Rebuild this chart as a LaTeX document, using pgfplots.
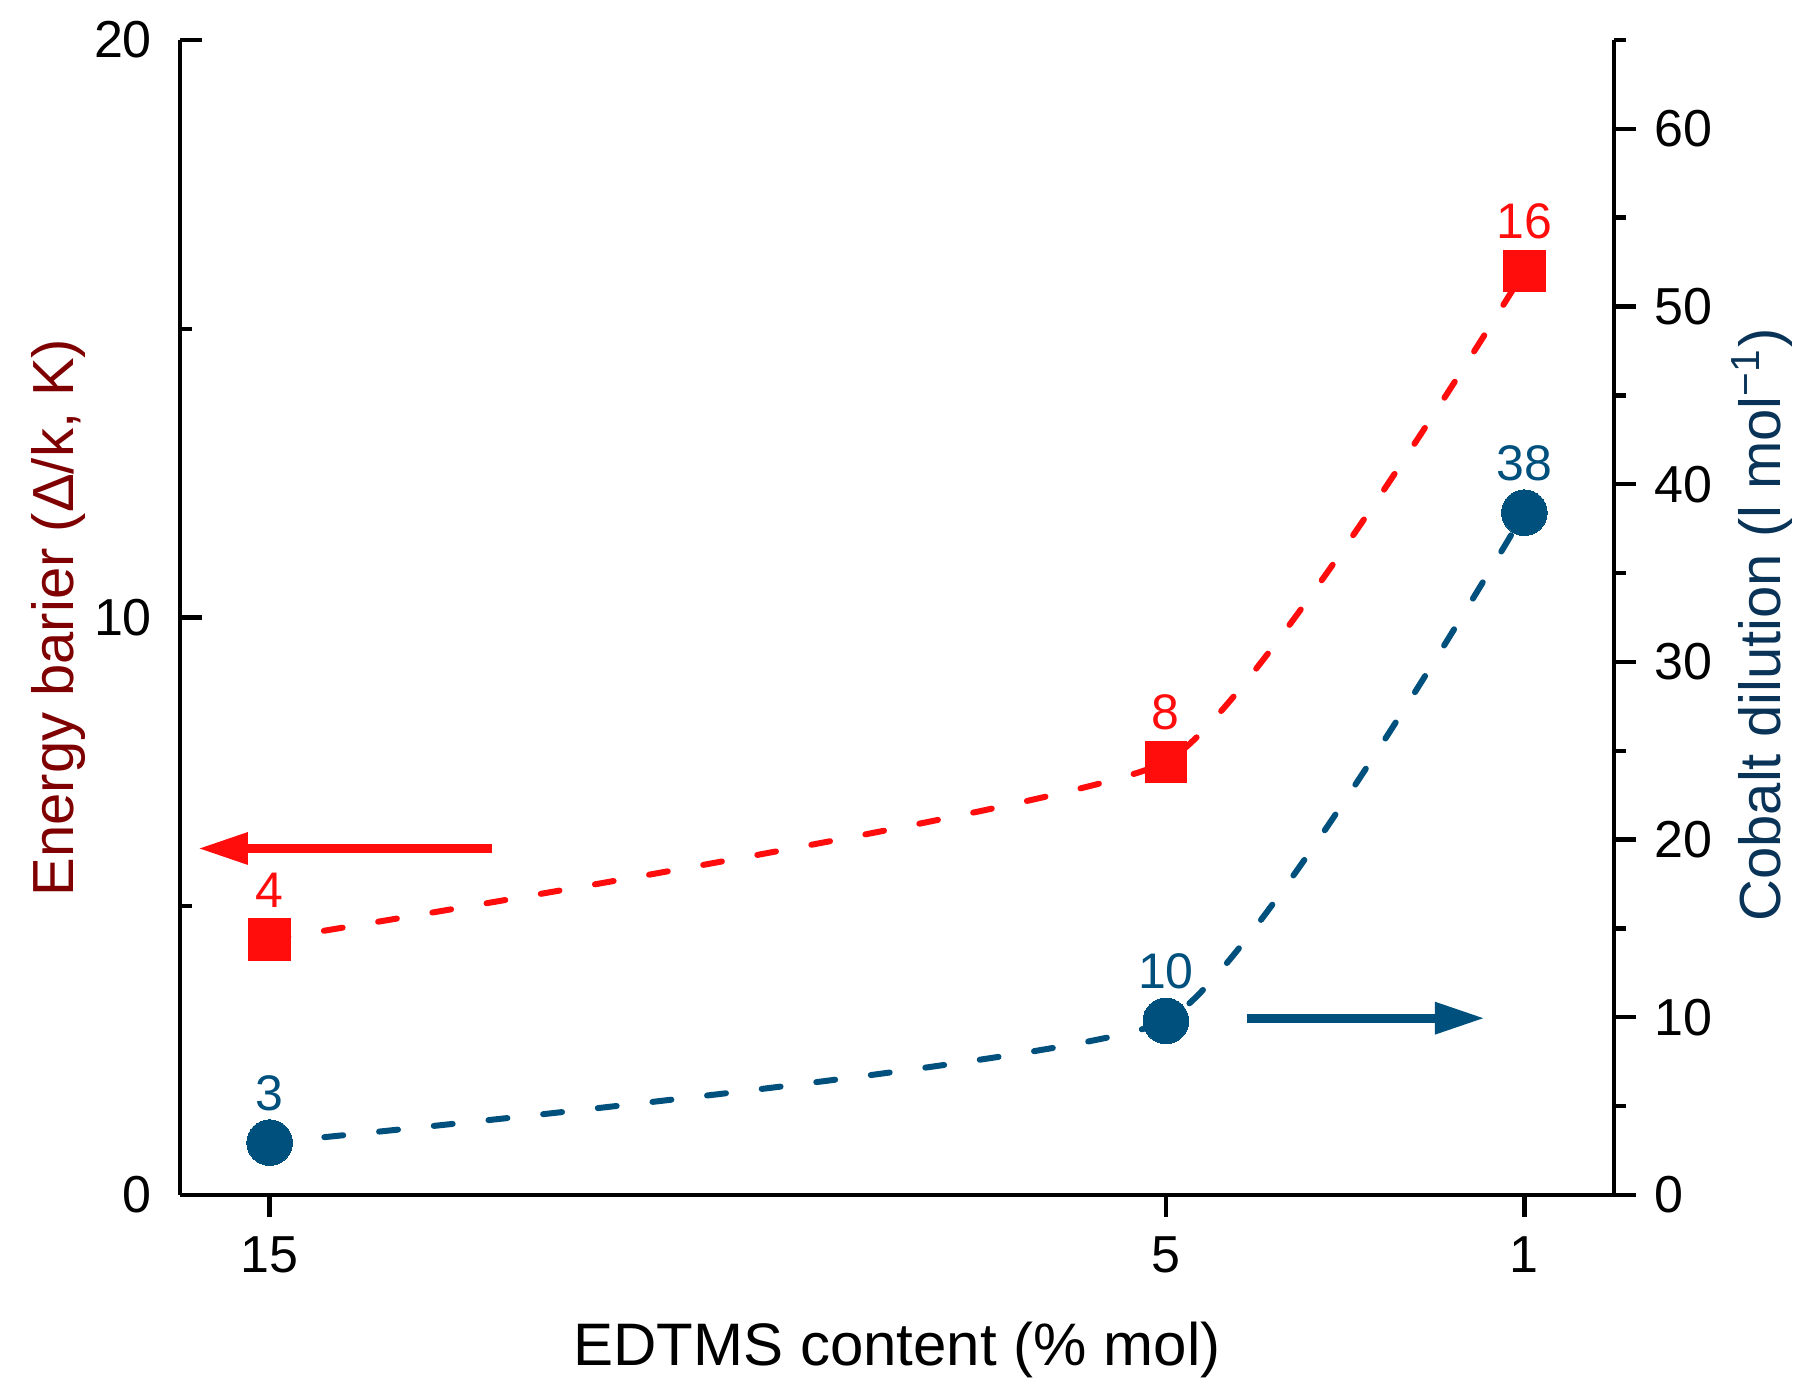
\documentclass[border=0pt]{standalone}
\usepackage{fontspec}
\setmainfont{Liberation Sans}
\usepackage{pgfplots}
\pgfplotsset{compat=1.18}
\usetikzlibrary{arrows.meta}
\definecolor{myred}{HTML}{FF0D0D}
\definecolor{myblue}{HTML}{00507D}
\definecolor{lblred}{HTML}{7F0000}
\definecolor{lblblue}{HTML}{0A3358}
\pgfplotsset{
  common/.style={
    at={(45pt,48.25pt)}, anchor=south west,
    scale only axis, width=358.5pt, height=288.75pt,
    xmin=0, xmax=16, x dir=reverse,
    axis line style={line width=1.1pt, -},
    major tick length=5.5pt, minor tick length=2.9pt,
    every tick/.style={black, line width=1.1pt},
    tick label style={font=\fontsize{13}{15}\selectfont},
    /pgf/number format/assume math mode=true,
    clip=false,
  }
}
\begin{document}
\begin{tikzpicture}
\useasboundingbox (0,0) rectangle (454pt,347pt);
\begin{axis}[
  common,
  ymin=0, ymax=20,
  axis x line=none,
  axis y line*=left,
  ytick={0,10,20}, minor ytick={5,15},
  tick align=inside,
  yticklabel style={xshift=-3.5pt},
  ylabel={Energy barier (Δ/k, K)},
  ylabel style={at={(axis description cs:-0.0746,0.5)}, anchor=base, rotate=0, font=\fontsize{14.5}{17}\selectfont, color=lblred},
]
\addplot[myred, line width=1.5pt, dash pattern=on 4.75pt off 9pt, line cap=round, smooth, tension=0.25,
  mark=square*, mark size=5.2pt, mark options={solid, fill=myred, draw=myred, line width=0pt},
  nodes near coords, point meta=explicit symbolic,
  every node near coord/.append style={font=\fontsize{12.5}{15}\selectfont, color=myred, anchor=base, inner sep=0pt, yshift=8pt}]
  coordinates {(15,4.42) [4] (5,7.5) [8] (1,16.0) [16]};
\draw[myred, line width=2.3pt, -{Triangle[length=12.5pt, width=7.5pt]}] (axis cs:12.52,6.0) -- (axis cs:15.80,6.0);
\end{axis}
\begin{axis}[
  common,
  ymin=0, ymax=65,
  axis x line*=bottom,
  axis y line*=right,
  xtick={15,5,1},
  ytick={0,10,...,60}, minor ytick={5,15,...,65},
  tick align=outside,
  yticklabel style={xshift=1.2pt},
  xticklabel style={yshift=-1.5pt},
  xlabel={EDTMS content (\% mol)},
  xlabel style={at={(axis description cs:0.5,-0.1472)}, anchor=base, font=\fontsize{15}{18}\selectfont},
  ylabel={Cobalt dilution (l mol\textsuperscript{\char"2212 1})},
  ylabel style={at={(axis description cs:1.1158,0.4935)}, anchor=base, rotate=0, font=\fontsize{14.5}{17}\selectfont, color=lblblue},
]
\addplot[myblue, line width=1.5pt, dash pattern=on 4.75pt off 9pt, line cap=round, smooth, tension=0.25,
  mark=*, mark size=5.7pt, mark options={solid, fill=myblue, draw=myblue, line width=0pt},
  nodes near coords, point meta=explicit symbolic,
  every node near coord/.append style={font=\fontsize{12.5}{15}\selectfont, color=myblue, anchor=base, inner sep=0pt, yshift=8pt}]
  coordinates {(15,2.95) [3] (5,9.8) [10] (1,38.4) [38]};
\draw[myblue, line width=2.3pt, -{Triangle[length=12.5pt, width=7.5pt]}] (axis cs:4.09,9.95) -- (axis cs:1.44,9.95);
\end{axis}
\end{tikzpicture}
\end{document}
